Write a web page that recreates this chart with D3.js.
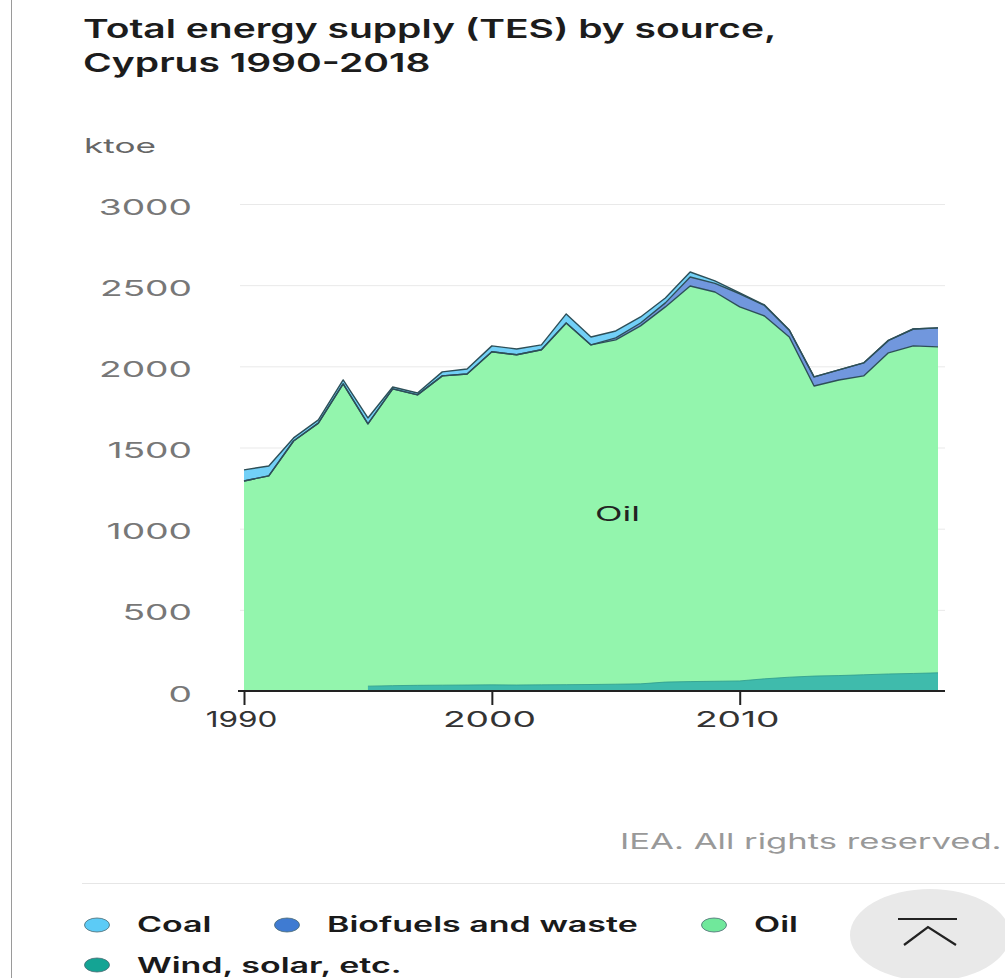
<!DOCTYPE html>
<html>
<head>
<meta charset="utf-8">
<script src="https://cdn.jsdelivr.net/npm/d3@7/dist/d3.min.js"></script>
<style>
html,body{margin:0;padding:0;background:#fff;overflow:hidden}
svg{display:block}
text{font-family:Inter,"Noto Sans",sans-serif}
</style>
</head>
<body>
<svg id="chart" width="1005" height="978"></svg>
<script>
// Total energy supply by source, ktoe
const years = d3.range(1990, 2019);
const coal = [68,61,19,20,24,36,12,12,25,31,36,36,30,56,49,43,37,30,31,15,5,3,1,0,0,0,0,0,0];
const biofuels = [0,0,0,0,0,0,0,0,0,0,0,0,0,0,0,12,18,25,55,53,81,65,42,56,62,80,77,104,117];
const oil = [1294,1325,1540,1650,1892,1616,1828,1789,1905,1916,2052,2034,2064,2228,2092,2121,2205,2311,2437,2398,2304,2235,2096,1787,1821,1841,1978,2018,2008];
const wind = [0,0,0,0,0,30,33,35,36,37,38,37,38,39,40,42,44,55,58,60,62,75,85,92,95,100,105,108,112];
const windStart = 1995;
const yTicks = [0,500,1000,1500,2000,2500,3000];
const xTicks = [1990,2000,2010];
const titleLines = ["Total energy supply (TES) by source,","Cyprus 1990-2018"];
const keys = ["wind","oil","biofuels","coal"];
const fills = {wind:"#3cb9ab",oil:"#8ff5aa",biofuels:"#6c94dc",coal:"#6dcef7"};
const legendItems = [
  {label:"Coal",color:"#5ccbf6",cx:97,cy:925,tx:137,ty:932},
  {label:"Biofuels and waste",color:"#3f7bd2",cx:287,cy:925,tx:327,ty:932},
  {label:"Oil",color:"#70e89b",cx:714,cy:925,tx:754,ty:932},
  {label:"Wind, solar, etc.",color:"#14a494",cx:97,cy:965,tx:137,ty:973}
];

const svg = d3.select("#chart");
const x = d3.scaleLinear().domain([1990,2018]).range([244,938]);
const y = d3.scaleLinear().domain([0,3000]).range([691,204]);

const rows = years.map((year,i)=>({year,coal:coal[i],biofuels:biofuels[i],oil:oil[i],wind:wind[i]}));
const stacked = d3.stack().keys(keys)(rows);

// Page frame line on the left
svg.append("line").attr("x1",11.5).attr("x2",11.5).attr("y1",0).attr("y2",978)
  .attr("stroke","#9a9a9a").attr("stroke-width",1);

// Stretched text helper
function label(parent,str,px,py,size,sx,opts={}){
  return parent.append("text")
    .attr("transform",`translate(${px},${py}) scale(${sx},1)`)
    .attr("font-size",size)
    .attr("font-weight",opts.weight||400)
    .attr("fill",opts.fill||"#222")
    .attr("text-anchor",opts.anchor||"start")
    .text(str);
}

titleLines.forEach((t,i)=>label(svg,t,83,38+i*34,26,1.5,{weight:600,fill:"#1c1c1c"}));
label(svg,"ktoe",84,153,20,1.76,{fill:"#666"});

// Horizontal gridlines and value labels
const yAxis = svg.append("g").attr("transform","translate(240,0)")
  .call(d3.axisLeft(y).tickValues(yTicks).tickSize(-705).tickPadding(48).tickFormat(d3.format("d")));
yAxis.select(".domain").remove();
yAxis.selectAll(".tick line").attr("stroke","#e9e9e9").attr("stroke-width",1);
yAxis.selectAll(".tick").filter(d=>d===0).select("line").remove();
yAxis.selectAll(".tick text")
  .attr("font-size",21).attr("fill","#777").attr("dy",null)
  .attr("x",0).attr("y",0)
  .attr("transform","translate(-48,10) scale(1.77,1)")
  .style("font-family","Inter");

// Stacked bands; oil runs down to the baseline so it also fills the years before wind and solar begin
const area = d3.area()
  .defined(d=>d.key!=="wind"||d.data.year>=windStart)
  .x(d=>x(d.data.year)).y0(d=>d.key==="oil"?y(0):y(d[0])).y1(d=>y(d[1]));
const topLine = d3.line()
  .defined(d=>d.key!=="wind"||d.data.year>=windStart)
  .x(d=>x(d.data.year)).y(d=>y(d[1]));

const bands = stacked.map(s=>{
  const pts = s.map(d=>Object.assign(d,{key:s.key}));
  pts.key = s.key;
  return pts;
});
svg.append("g").selectAll("path").data(bands.slice().reverse()).join("path")
  .attr("d",area).attr("fill",d=>fills[d.key]).attr("fill-opacity",.97);
svg.append("g").selectAll("path").data(bands).join("path")
  .attr("d",topLine).attr("fill","none")
  .attr("stroke",d=>d.key==="wind"?"#2f9a8c":"#2d4f58")
  .attr("stroke-width",d=>d.key==="wind"?.8:1.4)
  .attr("stroke-linejoin","round");

// Year axis
const xAxis = svg.append("g").attr("transform","translate(0,691)")
  .call(d3.axisBottom(x).tickValues(xTicks).tickSize(14).tickPadding(2).tickFormat(d3.format("d")));
xAxis.select(".domain").remove();
xAxis.append("line").attr("x1",238).attr("x2",945).attr("stroke","#222").attr("stroke-width",2);
xAxis.selectAll(".tick line").attr("stroke","#222").attr("stroke-width",2);
xAxis.selectAll(".tick text")
  .attr("font-size",21).attr("fill","#333").attr("dy",null).attr("y",0)
  .attr("transform",d=>`translate(-3,36) scale(${d===1990?1.5:1.77},1)`)
  .style("font-family","Inter");

label(svg,"Oil",595,521,20,1.8,{fill:"#222"});
label(svg,"IEA. All rights reserved.",620,849,21,1.65,{fill:"#999"});

// Divider and legend
svg.append("line").attr("x1",82).attr("x2",1005).attr("y1",883.5).attr("y2",883.5).attr("stroke","#e6e6e6");
const lg = svg.append("g");
legendItems.forEach(it=>{
  lg.append("ellipse").attr("cx",it.cx).attr("cy",it.cy).attr("rx",12.5).attr("ry",7)
    .attr("fill",it.color).attr("stroke","#4a6a72").attr("stroke-width",.8);
  label(lg,it.label,it.tx,it.ty,21,1.62,{weight:600,fill:"#1a1a1a"});
});

// Back-to-top button
svg.append("ellipse").attr("cx",930).attr("cy",935).attr("rx",80).attr("ry",46).attr("fill","#e9e9e9");
svg.append("line").attr("x1",898).attr("x2",957).attr("y1",919).attr("y2",919).attr("stroke","#222").attr("stroke-width",2.2);
svg.append("path").attr("d",d3.line()([[904,945],[928,927],[956,945]])).attr("fill","none").attr("stroke","#222").attr("stroke-width",2.2);
</script>
</body>
</html>
